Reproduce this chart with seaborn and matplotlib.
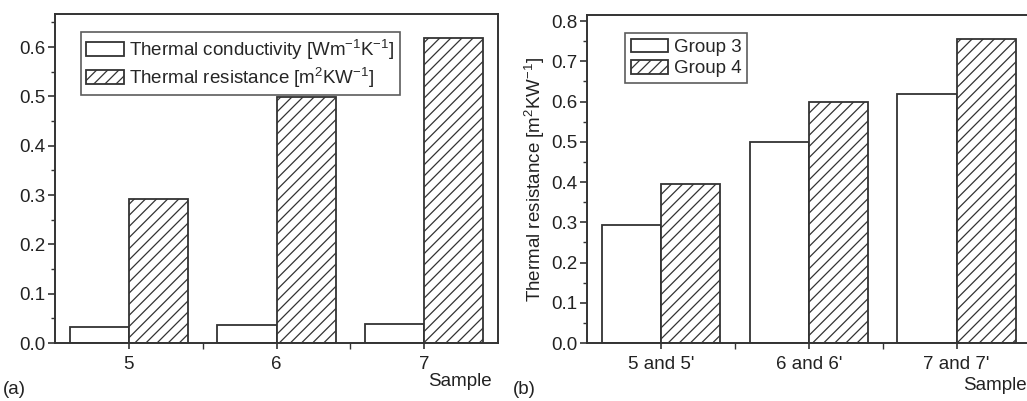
import matplotlib
matplotlib.use("Agg")
import matplotlib.pyplot as plt
import seaborn as sns
import pandas as pd

# 数据
samples_a = ["5", "6", "7"]
conductivity = [0.033, 0.036, 0.038]
resistance_a = [0.292, 0.499, 0.618]

samples_b = ["5 and 5'", "6 and 6'", "7 and 7'"]
group3 = [0.292, 0.499, 0.618]
group4 = [0.394, 0.600, 0.756]

label_cond = r"Thermal conductivity [Wm$^{-1}$K$^{-1}$]"
label_res = r"Thermal resistance [m$^{2}$KW$^{-1}$]"

sns.set_style("ticks")
plt.rcParams['font.family'] = ['Liberation Sans', 'DejaVu Sans']
plt.rcParams['mathtext.fontset'] = 'custom'
plt.rcParams['mathtext.rm'] = 'Liberation Sans'
plt.rcParams['mathtext.it'] = 'Liberation Sans'
plt.rcParams['hatch.color'] = '#444444'
plt.rcParams['hatch.linewidth'] = 0.9

EDGE = '#333333'
TXT = '#222222'
FS = 13.5


def style_axes(ax):
    for sp in ax.spines.values():
        sp.set_color(EDGE)
        sp.set_linewidth(1.4)
        sp.set_visible(True)
    ax.tick_params(axis='y', which='major', direction='out', length=5, width=1.2,
                   color=EDGE, labelsize=FS, labelcolor=TXT, pad=2)
    ax.tick_params(axis='y', which='minor', direction='out', length=3, width=1.0, color=EDGE)
    ax.tick_params(axis='x', which='major', direction='inout', length=9, width=1.2,
                   color=EDGE, labelsize=FS, labelcolor=TXT, pad=5)
    ax.tick_params(axis='x', which='minor', direction='out', length=4, width=1.0, color=EDGE)
    ax.set_xlim(-0.5, 2.5)
    ax.set_xticks([0.5, 1.5], minor=True)
    ax.set_xlabel("")


def draw_bars(ax, cats, s1, s2, n1, n2):
    df = pd.DataFrame({
        "Sample": cats * 2,
        "value": s1 + s2,
        "series": [n1] * len(cats) + [n2] * len(cats),
    })
    sns.barplot(data=df, x="Sample", y="value", hue="series", ax=ax,
                palette=["white", "white"], edgecolor=EDGE, linewidth=1.3,
                width=0.8, legend=False, saturation=1)
    for bar in ax.containers[1]:
        bar.set_hatch('///')
    return ax.containers


fig = plt.figure(figsize=(10.27, 4.01), dpi=100)

# (a)
ax1 = fig.add_axes([55 / 1027, 58 / 401, 443 / 1027, 329 / 401])
c = draw_bars(ax1, samples_a, conductivity, resistance_a, label_cond, label_res)
style_axes(ax1)
ax1.set_ylim(0, 0.667)
ax1.set_yticks([0.0, 0.1, 0.2, 0.3, 0.4, 0.5, 0.6])
ax1.set_yticks([0.05, 0.15, 0.25, 0.35, 0.45, 0.55, 0.65], minor=True)
ax1.set_ylabel("")
leg = ax1.legend(c, [label_cond, label_res], loc='upper left',
                 bbox_to_anchor=(0.058, 0.945), fontsize=FS, frameon=True,
                 fancybox=False, edgecolor=EDGE, handlelength=2.0,
                 handleheight=0.75, handletextpad=0.3, borderpad=0.3,
                 labelspacing=0.2, borderaxespad=0)
leg.get_frame().set_linewidth(1.2)

# (b)
ax2 = fig.add_axes([587 / 1027, 58 / 401, 443.5 / 1027, 328 / 401])
c = draw_bars(ax2, samples_b, group3, group4, "Group 3", "Group 4")
style_axes(ax2)
ax2.set_ylim(0, 0.815)
ax2.set_yticks([0.0, 0.1, 0.2, 0.3, 0.4, 0.5, 0.6, 0.7, 0.8])
ax2.set_yticks([0.05, 0.15, 0.25, 0.35, 0.45, 0.55, 0.65, 0.75], minor=True)
ax2.set_ylabel(label_res, fontsize=FS, color=TXT, labelpad=3)
leg = ax2.legend(c, ["Group 3", "Group 4"], loc='upper left',
                 bbox_to_anchor=(0.086, 0.945), fontsize=FS, frameon=True,
                 fancybox=False, edgecolor=EDGE, handlelength=2.0,
                 handleheight=0.75, handletextpad=0.3, borderpad=0.3,
                 labelspacing=0.2, borderaxespad=0)
leg.get_frame().set_linewidth(1.2)

# 文字标注
fig.text(3 / 1027, 1 - 389 / 401, "(a)", fontsize=FS, va='center', ha='left', color=TXT)
fig.text(492 / 1027, 1 - 381 / 401, "Sample", fontsize=FS, va='center', ha='right', color=TXT)
fig.text(513 / 1027, 1 - 389 / 401, "(b)", fontsize=FS, va='center', ha='left', color=TXT)
fig.text(1027 / 1027, 1 - 385 / 401, "Sample", fontsize=FS, va='center', ha='right', color=TXT)

fig.savefig("out.png", dpi=100)
